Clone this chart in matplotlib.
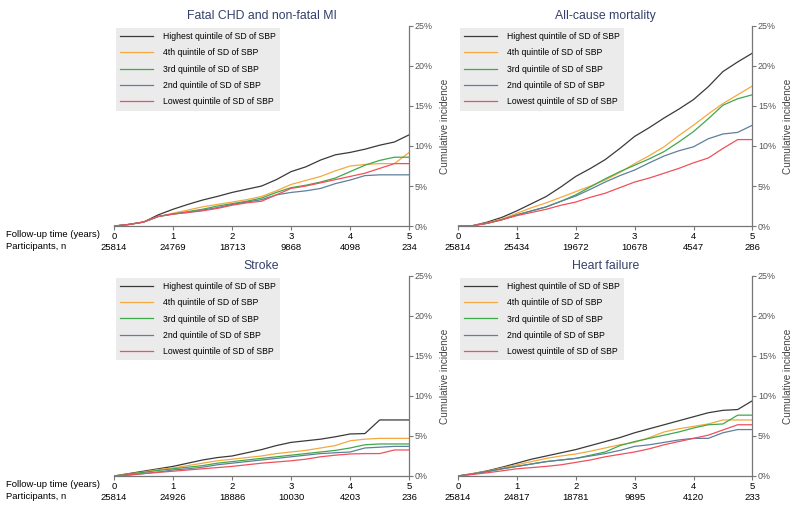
import matplotlib
matplotlib.use("Agg")
import matplotlib.pyplot as plt
import matplotlib.transforms as mtransforms

plt.rcParams["font.family"] = ["Liberation Sans", "DejaVu Sans"]

# follow-up time grid (years)
time_years = [0, 0.25, 0.5, 0.75, 1, 1.25, 1.5, 1.75, 2, 2.25, 2.5,
              2.75, 3, 3.25, 3.5, 3.75, 4, 4.25, 4.5, 4.75, 5]

series_labels = [
    "Highest quintile of SD of SBP",
    "4th quintile of SD of SBP",
    "3rd quintile of SD of SBP",
    "2nd quintile of SD of SBP",
    "Lowest quintile of SD of SBP",
]
series_colors = ["#3a3a3a", "#f4a840", "#3fa84a", "#5f7f9c", "#f0505c"]

titles = ["Fatal CHD and non-fatal MI", "All-cause mortality", "Stroke", "Heart failure"]

# cumulative incidence (%) per quintile, highest -> lowest
chd = [
    [0, 0.2, 0.5, 1.4, 2.1, 2.7, 3.25, 3.7, 4.2, 4.6, 5.0, 5.8, 6.8, 7.4, 8.25, 8.9, 9.2, 9.6, 10.1, 10.5, 11.4],
    [0, 0.2, 0.5, 1.2, 1.6, 2.0, 2.4, 2.7, 3.0, 3.3, 3.7, 4.4, 5.2, 5.7, 6.2, 6.9, 7.5, 7.7, 7.8, 7.8, 9.2],
    [0, 0.2, 0.5, 1.2, 1.5, 1.8, 2.1, 2.5, 2.8, 3.1, 3.5, 4.2, 4.8, 5.1, 5.5, 6.0, 6.8, 7.6, 8.2, 8.6, 8.6],
    [0, 0.2, 0.5, 1.2, 1.5, 1.7, 2.0, 2.3, 2.7, 3.0, 3.3, 3.9, 4.2, 4.4, 4.7, 5.3, 5.75, 6.3, 6.4, 6.4, 6.4],
    [0, 0.2, 0.5, 1.2, 1.5, 1.7, 1.9, 2.2, 2.6, 2.9, 3.1, 3.9, 4.7, 5.0, 5.4, 5.8, 6.2, 6.6, 7.2, 7.8, 7.8],
]
mortality = [
    [0, 0.05, 0.5, 1.1, 1.9, 2.8, 3.7, 4.9, 6.2, 7.2, 8.3, 9.7, 11.2, 12.3, 13.5, 14.6, 15.8, 17.4, 19.3, 20.5, 21.6],
    [0, 0.05, 0.4, 0.9, 1.6, 2.3, 2.9, 3.6, 4.3, 5.0, 5.75, 6.7, 7.8, 8.8, 9.9, 11.3, 12.6, 14.0, 15.3, 16.4, 17.5],
    [0, 0.05, 0.35, 0.8, 1.4, 1.9, 2.4, 3.1, 3.9, 4.9, 5.9, 6.8, 7.6, 8.4, 9.3, 10.5, 11.8, 13.4, 15.1, 15.9, 16.4],
    [0, 0.05, 0.35, 0.8, 1.4, 1.9, 2.4, 3.1, 3.75, 4.6, 5.5, 6.3, 7.0, 7.9, 8.75, 9.4, 9.9, 10.9, 11.5, 11.7, 12.6],
    [0, 0.05, 0.35, 0.8, 1.3, 1.7, 2.1, 2.6, 3.0, 3.6, 4.1, 4.8, 5.5, 6.0, 6.6, 7.2, 7.9, 8.5, 9.7, 10.8, 10.8],
]
stroke = [
    [0, 0.3, 0.6, 0.9, 1.2, 1.6, 2.0, 2.3, 2.5, 2.9, 3.3, 3.8, 4.2, 4.4, 4.6, 4.9, 5.25, 5.3, 7.0, 7.0, 7.0],
    [0, 0.25, 0.5, 0.8, 1.0, 1.3, 1.6, 1.9, 2.1, 2.3, 2.5, 2.8, 3.0, 3.2, 3.5, 3.8, 4.4, 4.6, 4.7, 4.7, 4.7],
    [0, 0.25, 0.45, 0.7, 0.9, 1.1, 1.3, 1.6, 1.8, 2.0, 2.2, 2.4, 2.6, 2.8, 3.0, 3.2, 3.5, 3.9, 4.0, 4.0, 4.0],
    [0, 0.1, 0.3, 0.5, 0.75, 0.9, 1.1, 1.4, 1.6, 1.8, 2.0, 2.2, 2.4, 2.6, 2.8, 2.9, 3.0, 3.5, 3.6, 3.7, 3.7],
    [0, 0.15, 0.3, 0.45, 0.6, 0.75, 0.9, 1.05, 1.2, 1.4, 1.6, 1.75, 1.9, 2.1, 2.4, 2.6, 2.75, 2.8, 2.8, 3.25, 3.25],
]
heart_failure = [
    [0, 0.3, 0.65, 1.1, 1.6, 2.1, 2.5, 2.9, 3.3, 3.8, 4.3, 4.8, 5.4, 5.9, 6.4, 6.9, 7.4, 7.9, 8.2, 8.3, 9.4],
    [0, 0.3, 0.6, 1.0, 1.4, 1.8, 2.2, 2.5, 2.75, 3.1, 3.5, 3.9, 4.2, 4.8, 5.5, 5.9, 6.2, 6.5, 7.0, 7.0, 7.0],
    [0, 0.25, 0.55, 0.9, 1.2, 1.5, 1.8, 2.0, 2.2, 2.6, 3.0, 3.8, 4.3, 4.7, 5.1, 5.5, 6.0, 6.4, 6.5, 7.6, 7.6],
    [0, 0.25, 0.55, 0.9, 1.2, 1.5, 1.8, 2.0, 2.2, 2.5, 2.8, 3.2, 3.7, 3.9, 4.2, 4.5, 4.7, 4.7, 5.4, 5.8, 5.8],
    [0, 0.2, 0.4, 0.65, 0.9, 1.05, 1.2, 1.4, 1.7, 2.0, 2.4, 2.7, 3.0, 3.4, 3.9, 4.3, 4.7, 5.1, 5.75, 6.4, 6.4],
]

# numbers at risk at years 0..5
at_risk_chd = [25814, 24769, 18713, 9868, 4098, 234]
at_risk_mortality = [25814, 25434, 19672, 10678, 4547, 286]
at_risk_stroke = [25814, 24926, 18886, 10030, 4203, 236]
at_risk_hf = [25814, 24817, 18781, 9895, 4120, 233]

panel_data = [chd, mortality, stroke, heart_failure]
panel_at_risk = [at_risk_chd, at_risk_mortality, at_risk_stroke, at_risk_hf]

axes_pos = [
    [0.1425, 0.555, 0.369, 0.394],
    [0.5725, 0.555, 0.368, 0.394],
    [0.1425, 0.063, 0.369, 0.394],
    [0.5725, 0.063, 0.368, 0.394],
]

title_color = "#34406a"
axis_color = "#777777"

fig = plt.figure(figsize=(8, 5.08), dpi=100)

for i in range(4):
    ax = fig.add_axes(axes_pos[i])
    for values, label, color in zip(panel_data[i], series_labels, series_colors):
        ax.plot(time_years, values, color=color, lw=0.9, label=label)

    ax.set_xlim(0, 5)
    ax.set_ylim(0, 25)
    for side in ["top", "left"]:
        ax.spines[side].set_visible(False)
    for side in ["bottom", "right"]:
        ax.spines[side].set_color(axis_color)
        ax.spines[side].set_linewidth(0.9)

    ax.set_xticks(range(6))
    ax.tick_params(axis="x", length=3, pad=1, labelsize=6.8, color=axis_color)
    ax.yaxis.tick_right()
    ax.yaxis.set_label_position("right")
    ax.set_yticks([0, 5, 10, 15, 20, 25])
    ax.set_yticklabels(["0%", "5%", "10%", "15%", "20%", "25%"])
    ax.tick_params(axis="y", length=3, pad=1, labelsize=6.4, color=axis_color,
                   labelcolor="#555555")
    ax.set_ylabel("Cumulative incidence", fontsize=7.2, color="#444444", labelpad=5)

    ax.set_title(titles[i], fontsize=8.8, color=title_color, pad=5)

    trans = mtransforms.blended_transform_factory(ax.transData, ax.transAxes)
    for x, n in enumerate(panel_at_risk[i]):
        ax.text(x, -0.105, str(n), transform=trans, ha="center", va="center", fontsize=6.8)

    ax.legend(loc="upper left", bbox_to_anchor=(0.0, 1.0), fontsize=6.2,
              frameon=True, facecolor="#ebebeb", edgecolor="none", framealpha=1,
              fancybox=False, handlelength=3.85, handletextpad=1.15,
              labelspacing=0.85, borderpad=0.5, borderaxespad=0.2)

    if i % 2 == 0:
        fig.text(0.008, axes_pos[i][1] - 0.016, "Follow-up time (years)",
                 fontsize=6.8, va="center", ha="left")
        fig.text(0.008, axes_pos[i][1] - 0.041, "Participants, n",
                 fontsize=6.8, va="center", ha="left")

fig.savefig("out.png", dpi=100)
